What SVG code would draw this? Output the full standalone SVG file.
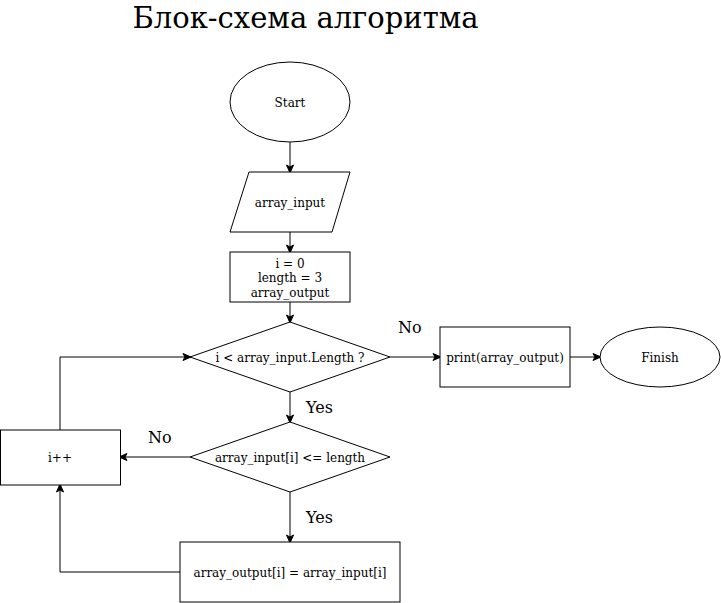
<svg xmlns="http://www.w3.org/2000/svg" width="721" height="603" viewBox="0 0 721 603">
<defs>
<marker id="arr" markerWidth="10" markerHeight="10" refX="8" refY="5" orient="auto" markerUnits="userSpaceOnUse">
<path d="M1,1.5 L9,5 L1,8.5 L3,5 Z" fill="#000" stroke="#000" stroke-width="1"/>
</marker>
<style>
.s{fill:#fff;stroke:#000;stroke-width:1}
.t{font-family:"DejaVu Serif","Liberation Serif",serif;font-size:12px;fill:#000;text-anchor:middle;dominant-baseline:central}
.l{font-family:"DejaVu Serif","Liberation Serif",serif;font-size:16px;fill:#000}
.c{fill:none;stroke:#000;stroke-width:1;marker-end:url(#arr)}
</style>
</defs>
<rect width="721" height="603" fill="#fff"/>
<text x="305.5" y="28" font-family="DejaVu Serif, Liberation Serif, serif" font-size="29" text-anchor="middle">Блок-схема алгоритма</text>
<g id="connectors">
<path class="c" d="M290,142 L290,172"/>
<path class="c" d="M290,232 L290,252"/>
<path class="c" d="M290,302 L290,322"/>
<path class="c" d="M390,357 L440,357"/>
<path class="c" d="M570,357 L600,357"/>
<path class="c" d="M290,392 L290,422"/>
<path class="c" d="M190,457 L120,457"/>
<path class="c" d="M290,492 L290,542"/>
<path class="c" d="M180,572 L60,572 L60,485"/>
<path class="c" d="M60,430 L60,357 L190,357"/>
<text class="l" x="398" y="333">No</text>
<text class="l" x="306" y="413">Yes</text>
<text class="l" x="148" y="443">No</text>
<text class="l" x="306" y="523">Yes</text>
</g>
<g id="start"><ellipse class="s" cx="290" cy="102" rx="60" ry="40"/><text class="t" x="290" y="103">Start</text></g>
<g id="input"><polygon class="s" points="249,172 350,172 332,232 230,232"/><text class="t" x="290" y="203">array_input</text></g>
<g id="init"><rect class="s" x="230" y="252" width="120" height="50"/><text class="t" x="290" y="264">i = 0</text><text class="t" x="290" y="278">length = 3</text><text class="t" x="290" y="293">array_output</text></g>
<g id="cond1"><polygon class="s" points="290,322 390,357 290,392 190,357"/><text class="t" x="290" y="358">i &lt; array_input.Length ?</text></g>
<g id="print"><rect class="s" x="440" y="327" width="130" height="60"/><text class="t" x="505" y="358">print(array_output)</text></g>
<g id="finish"><ellipse class="s" cx="660" cy="357" rx="60" ry="30"/><text class="t" x="660" y="358">Finish</text></g>
<g id="cond2"><polygon class="s" points="290,422 390,457 290,492 190,457"/><text class="t" x="290" y="458">array_input[i] &lt;= length</text></g>
<g id="inc"><rect class="s" x="0.5" y="430" width="120" height="55"/><text class="t" x="60" y="458">i++</text></g>
<g id="assign"><rect class="s" x="180" y="542" width="220" height="60"/><text class="t" x="290" y="573">array_output[i] = array_input[i]</text></g>
</svg>
